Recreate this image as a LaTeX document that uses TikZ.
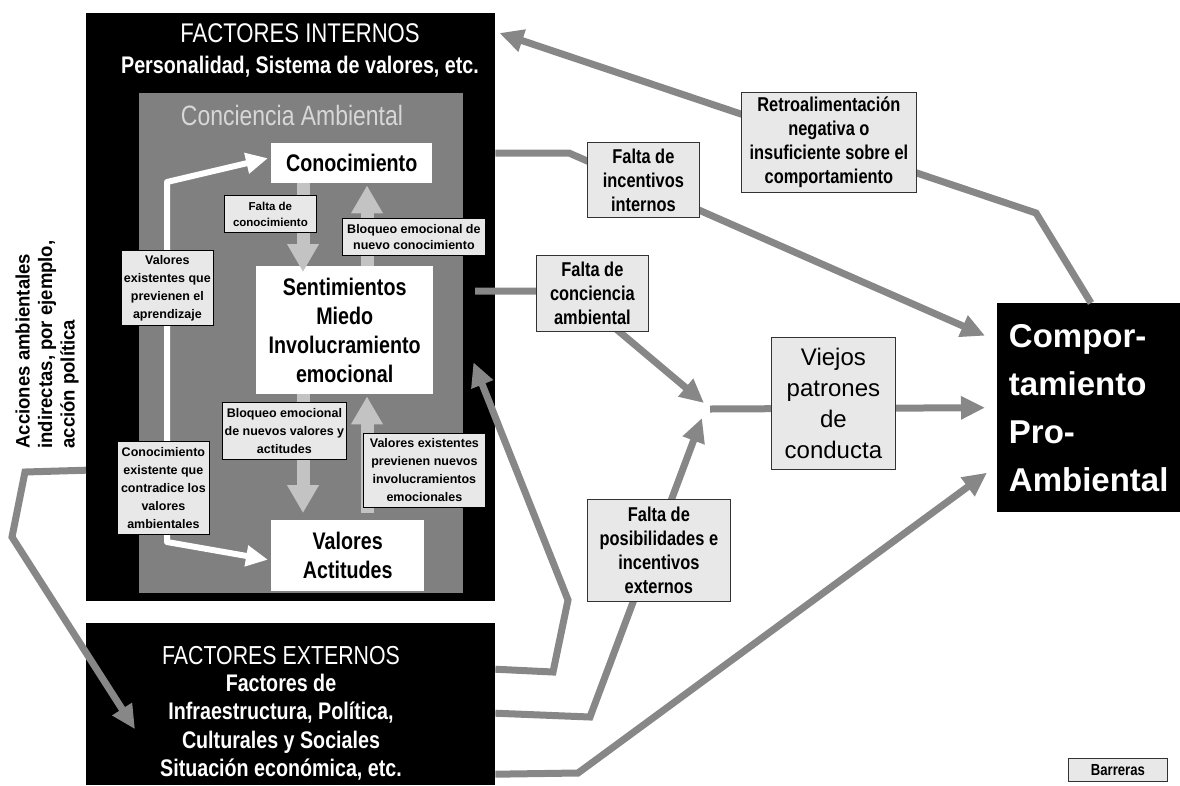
\documentclass[tikz,border=0pt]{standalone}
\usepackage{fontspec}
\setmainfont{Liberation Sans}
\newfontfamily\narf[FakeStretch=0.82]{Liberation Sans}
\newfontfamily\sidef[FakeStretch=0.95]{Liberation Sans}
\usetikzlibrary{arrows.meta}
\definecolor{midgray}{RGB}{128,128,128}
\definecolor{conngray}{RGB}{135,135,135}
\definecolor{labgray}{RGB}{232,232,232}
\definecolor{blockgray}{RGB}{195,195,195}
\definecolor{titlegray}{RGB}{215,215,215}

\begin{document}
\begin{tikzpicture}[x=1pt,y=-1pt,
  panel/.style={fill=black, inner sep=0pt, anchor=north west},
  innerpanel/.style={fill=midgray, inner sep=0pt, anchor=north west},
  wbox/.style={fill=white, inner sep=0pt, anchor=north west, align=center,
    font=\narf\bfseries\fontsize{24}{29}\selectfont},
  lab/.style={draw=black, line width=0.8pt, fill=labgray, inner sep=0pt,
    anchor=north west, align=center, font=\bfseries\fontsize{12.5}{18}\selectfont},
  olab/.style={draw=black!80, line width=0.8pt, fill=labgray, inner sep=0pt,
    anchor=north west, align=center, font=\narf\bfseries\fontsize{20}{24}\selectfont},
  conn/.style={draw=conngray, line width=7pt, line join=miter},
  head/.style={-{Triangle[length=24pt,width=22pt]}},
  barrow/.style={draw=blockgray, line width=13pt, -{Triangle[length=28pt,width=30pt]}},
  warrow/.style={draw=white, line width=6pt, line join=round,
    {Triangle[length=22pt,width=20pt]}-{Triangle[length=22pt,width=20pt]}},
]
\useasboundingbox (0,0) rectangle (1180,785);

% ---- internal factors panel ----
\node[panel, minimum width=409pt, minimum height=588pt] (int) at (86,13) {};
\node[text=white, font=\narf\fontsize{27}{30}\selectfont] (tint) at (300,33) {FACTORES INTERNOS};
\node[text=white, font=\narf\bfseries\fontsize{24}{28}\selectfont] (pint) at (300,67) {Personalidad, Sistema de valores, etc.};

% ---- environmental awareness panel ----
\node[innerpanel, minimum width=324pt, minimum height=500pt] (ca) at (139,93) {};
\node[text=titlegray, font=\narf\fontsize{28}{30}\selectfont] (tca) at (292,115) {Conciencia Ambiental};

\node[wbox, minimum width=161pt, minimum height=40pt] (con) at (271,143) {Conocimiento};
\node[wbox, minimum width=177pt, minimum height=128pt] (sen) at (256,266) {Sentimientos\\Miedo\\Involucramiento\\emocional};
\node[wbox, minimum width=153pt, minimum height=71pt] (val) at (271,520) {Valores\\Actitudes};

% block arrows between the three boxes
\coordinate (xl) at (303,0);
\coordinate (xr) at (367,0);
\draw[barrow] (con.south -| xl) -- ([yshift=-6pt]sen.north -| xl);
\draw[barrow] (sen.north -| xr) -- ([yshift=-2pt]con.south -| xr);
\draw[barrow] (sen.south -| xl) -- ([yshift=7pt]val.north -| xl);
\draw[barrow] ([yshift=7pt]val.north -| xr) -- ([yshift=-2pt]sen.south -| xr);

% white double arrow on the left
\coordinate (wa) at (167,182);
\coordinate (wb) at (167,542);
\draw[warrow] ([xshift=-3pt,yshift=5pt]con.west) -- (wa) -- (wb) -- ([xshift=-3pt,yshift=-4pt]val.west);

% labels inside the awareness panel
\node[lab, font=\bfseries\fontsize{11.5}{16}\selectfont, minimum width=92pt, minimum height=37pt] (l1) at (224,195) {Falta de\\conocimiento};
\node[lab, font=\bfseries\fontsize{12.5}{16}\selectfont, minimum width=143pt, minimum height=37pt] (l2) at (342,218) {Bloqueo emocional de\\nuevo conocimiento};
\node[lab, minimum width=92pt, minimum height=75pt] (l3) at (121,250) {Valores\\existentes que\\previenen el\\aprendizaje};
\node[lab, minimum width=124pt, minimum height=57pt] (l4) at (222,402) {Bloqueo emocional\\de nuevos valores y\\actitudes};
\node[lab, minimum width=122pt, minimum height=74pt] (l5) at (363,433) {Valores existentes\\previenen nuevos\\involucramientos\\emocionales};
\node[lab, minimum width=92pt, minimum height=93pt] (l6) at (117,441) {Conocimiento\\existente que\\contradice los\\valores\\ambientales};

% ---- external factors panel ----
\node[panel, minimum width=409pt, minimum height=162pt] (ext) at (86,623) {};
\node[text=white, font=\narf\fontsize{26}{30}\selectfont] (text) at (281,656) {FACTORES EXTERNOS};
\node[text=white, align=center, font=\narf\bfseries\fontsize{24}{28.5}\selectfont] (bext) at (281,727) {Factores de\\Infraestructura, Política,\\Culturales y Sociales\\Situación económica, etc.};

% ---- pro-environmental behaviour ----
\node[fill=black, anchor=north west, inner sep=0pt, minimum width=183pt, minimum height=209pt,
  text=white, align=left, font=\bfseries\fontsize{33}{48}\selectfont] (comp) at (997,303)
  {Compor-\\tamiento\\Pro-\\Ambiental};

% ---- connectors ----
\coordinate (J) at (710,409);
\coordinate (c1) at (1091,0);
\coordinate (r1) at (1036,213);
\coordinate (i1) at (569,153);
\coordinate (a1) at (475,291);
\coordinate (a2) at (571,291);
\coordinate (e1) at (590,717);
\coordinate (b1) at (553,672);
\coordinate (b2) at (568,600);
\coordinate (g1) at (578,773);
\coordinate (h1) at (25,472);
\coordinate (h2) at (12,537);

\draw[conn, head] (comp.north -| c1) -- (r1) -- ([xshift=4pt,yshift=-20pt]int.north east);
\draw[conn, head] ([yshift=-140pt]int.north east) -- (i1) -- ([xshift=-12pt,yshift=72pt]comp.west);
\draw[conn, head] (a1) -- (a2) -- ([xshift=-6pt,yshift=6pt]J);
\draw[conn, head] (J) -- ([xshift=-12pt]comp.west);
\draw[conn, head] ([yshift=-9pt]ext.east) -- (e1) -- ([xshift=-8pt,yshift=-9pt]J);
\draw[conn, head] ([yshift=35pt]ext.east) -- (b1) -- (b2) -- ([xshift=40pt,yshift=-32pt]sen.east);
\draw[conn, head] ([yshift=-70pt]ext.east) -- (g1) -- ([xshift=-10pt,yshift=-65pt]comp.west);
\draw[conn, head] ([yshift=-163pt]int.west) -- (h1) -- (h2) -- ([xshift=49pt,yshift=-25pt]ext.west);

% labels on the connectors
\node[olab, minimum width=175pt, minimum height=100pt] (retro) at (741,92) {Retroalimentación\\negativa o\\insuficiente sobre el\\comportamiento};
\node[olab, minimum width=112pt, minimum height=75pt] (fii) at (587,142) {Falta de\\incentivos\\internos};
\node[olab, minimum width=112pt, minimum height=76pt] (fca) at (536,255) {Falta de\\conciencia\\ambiental};
\node[olab, minimum width=143pt, minimum height=102pt] (fpe) at (587,499) {Falta de\\posibilidades e\\incentivos\\externos};
\node[olab, font=\fontsize{24}{31}\selectfont, minimum width=124pt, minimum height=132pt] (vie) at (771,337) {Viejos\\patrones\\de\\conducta};
\node[olab, font=\narf\bfseries\fontsize{16}{18}\selectfont, minimum width=99pt, minimum height=23pt] (bar) at (1068,758) {Barreras};

% side note on indirect actions
\node[rotate=90, anchor=west, align=left, font=\sidef\bfseries\fontsize{19.5}{22.5}\selectfont] (acc) at (47,452)
  {Acciones ambientales\\indirectas, por ejemplo,\\acción política};
\end{tikzpicture}
\end{document}
